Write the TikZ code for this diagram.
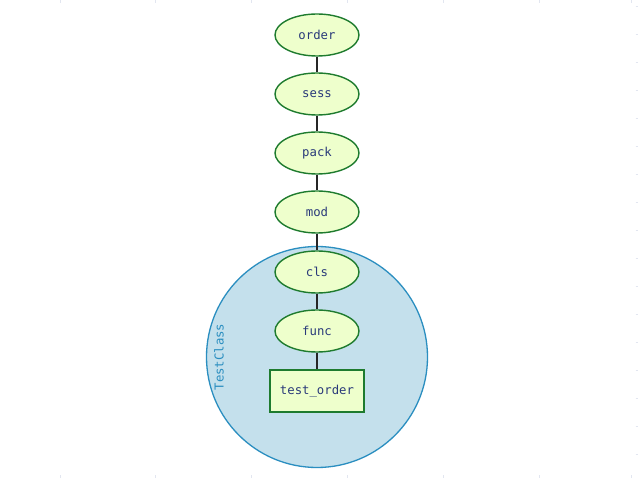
\documentclass[tikz,border=0pt]{standalone}
\usepackage{fontspec}
\setmonofont{DejaVu Sans Mono}
\definecolor{nodefill}{HTML}{EEFFCC}
\definecolor{nodeline}{HTML}{1E7B2E}
\definecolor{textcol}{HTML}{2A3A7A}
\definecolor{clusfill}{HTML}{C4E0EC}
\definecolor{clusline}{HTML}{2A8EC0}
\definecolor{tickcol}{HTML}{E2E6F0}
\tikzset{
  ell/.style={ellipse, draw=nodeline, fill=nodefill, line width=1.4pt, minimum width=84pt, minimum height=42pt, inner sep=0pt, font=\ttfamily\fontsize{12.3}{14}\selectfont, text=textcol},
  boxnode/.style={rectangle, draw=nodeline, fill=nodefill, line width=1.4pt, minimum width=94pt, minimum height=42pt, inner sep=0pt, font=\ttfamily\fontsize{12.3}{14}\selectfont, text=textcol},
  edge/.style={draw=black!85, line width=1.3pt}
}
\usetikzlibrary{shapes.geometric}
\begin{document}
\begin{tikzpicture}[x=1pt,y=-1pt]
\useasboundingbox (0,0) rectangle (643,478);
\fill[white] (0,0) rectangle (643,478);
\foreach \x in {60,155,251,347,443,539,631}{\draw[tickcol, line width=0.6pt] (\x,0) -- (\x,3);\draw[tickcol, line width=0.6pt] (\x,475) -- (\x,478);}
\foreach \y in {6,34,62,90,118,146,174,202,230,258,286,314,342,370,398,426,454}{\draw[tickcol, line width=0.6pt] (635.5,\y) -- (638,\y);}
\node[circle, draw=clusline, fill=clusfill, line width=1.3pt, minimum size=221pt, inner sep=0pt] (clus) at (317,357) {};
\node[rotate=90, text=clusline, font=\ttfamily\fontsize{12.3}{14}\selectfont] (clabel) at (219,357) {TestClass};
\node[ell] (order) at (317,35) {order};
\node[ell] (sess) at (317,94) {sess};
\node[ell] (pack) at (317,153) {pack};
\node[ell] (mod) at (317,212) {mod};
\node[ell] (cls) at (317,272) {cls};
\node[ell] (func) at (317,331) {func};
\node[boxnode] (test) at (317,391) {test\_order};
\draw[edge] (order) -- (sess);
\draw[edge] (sess) -- (pack);
\draw[edge] (pack) -- (mod);
\draw[edge] (mod) -- (cls);
\draw[edge] (cls) -- (func);
\draw[edge] (func) -- (test);
\end{tikzpicture}
\end{document}
